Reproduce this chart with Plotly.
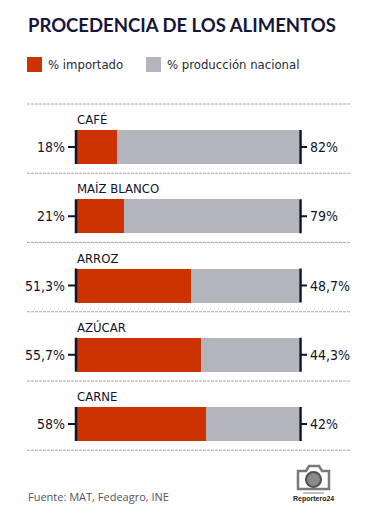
import plotly.graph_objects as go

# ---- data ----
categories = ["CAFÉ", "MAÍZ BLANCO", "ARROZ", "AZÚCAR", "CARNE"]
importado = [18, 21, 51.3, 55.7, 58]
nacional = [82, 79, 48.7, 44.3, 42]
series_names = ["% importado", "% producción nacional"]
title_text = "PROCEDENCIA DE LOS ALIMENTOS"
source_text = "Fuente: MAT, Fedeagro, INE"

RED = "#cc3300"
GRAY = "#b4b4bc"
INK = "#12122a"
W, H = 371, 516
L, R, T, B = 77, 72, 100, 56
SP = 69.25           # px between bar centres
FIRST = 147          # px centre of first bar
PW = W - L - R
PH = H - T - B

def fmt(v):
    s = ("%g" % v).replace(".", ",")
    return s + "%"

def px_x(p):
    return (p - L) / PW

def px_y(p):
    return 1 - (p - T) / PH

NARROW = "Liberation Sans Narrow, DejaVu Sans Condensed, Roboto, sans-serif"

idx = list(range(len(categories)))
fig = go.Figure()
fig.add_trace(go.Bar(y=idx, x=importado, orientation="h", name=series_names[0],
                     marker=dict(color=RED, line=dict(width=0)), width=34 / SP,
                     showlegend=False, hoverinfo="x+name"))
fig.add_trace(go.Bar(y=idx, x=nacional, orientation="h", name=series_names[1],
                     marker=dict(color=GRAY, line=dict(width=0)), width=34 / SP,
                     showlegend=False, hoverinfo="x+name"))

shapes = []
annotations = []
half = 17 / SP
for i, cat in enumerate(categories):
    # end caps
    for xc in (76, 300.5):
        shapes.append(dict(type="line", xref="paper", yref="y",
                           x0=px_x(xc), x1=px_x(xc), y0=i - half, y1=i + half,
                           line=dict(color=INK, width=2.5)))
    shapes.append(dict(type="line", xref="paper", yref="y", x0=px_x(68), x1=px_x(76),
                       y0=i, y1=i, line=dict(color=INK, width=2)))
    shapes.append(dict(type="line", xref="paper", yref="y", x0=px_x(300.5), x1=px_x(307),
                       y0=i, y1=i, line=dict(color=INK, width=2)))
    annotations.append(dict(xref="paper", yref="y", x=px_x(67), y=i, text=fmt(importado[i]),
                            xanchor="right", yanchor="middle", showarrow=False,
                            font=dict(family=NARROW, size=14, color=INK)))
    annotations.append(dict(xref="paper", yref="y", x=px_x(308), y=i, text=fmt(nacional[i]),
                            xanchor="left", yanchor="middle", showarrow=False,
                            font=dict(family=NARROW, size=14, color=INK)))
    annotations.append(dict(xref="paper", yref="y", x=px_x(75), y=i, yshift=27.5, text=cat,
                            xanchor="left", yanchor="middle", showarrow=False,
                            font=dict(family=NARROW, size=13, color=INK)))

for k in range(len(categories) + 1):
    shapes.append(dict(type="line", xref="paper", yref="y", x0=px_x(27), x1=px_x(351),
                       y0=k - 43 / SP, y1=k - 43 / SP,
                       line=dict(color="#a8a8b0", width=1, dash="3px,1px")))

# legend (custom)
for (x0, col, name, tx) in [(27, RED, series_names[0], 46), (146, GRAY, series_names[1], 165)]:
    shapes.append(dict(type="rect", xref="paper", yref="paper", x0=px_x(x0), x1=px_x(x0 + 15),
                       y0=px_y(72), y1=px_y(57), fillcolor=col, line=dict(width=0)))
    annotations.append(dict(xref="paper", yref="paper", x=px_x(tx), y=px_y(64.5), text=name,
                            xanchor="left", yanchor="middle", showarrow=False,
                            font=dict(family=NARROW, size=13, color="#2a2a3a")))

annotations.append(dict(xref="paper", yref="paper", x=px_x(26), y=px_y(24.5), text=title_text,
                        xanchor="left", yanchor="middle", showarrow=False,
                        font=dict(family="Lato, sans-serif", size=18.5, color="#16163a", weight=700)))
annotations.append(dict(xref="paper", yref="paper", x=px_x(26), y=px_y(496), text=source_text,
                        xanchor="left", yanchor="middle", showarrow=False,
                        font=dict(family="Open Sans, sans-serif", size=11, color="#555560")))

# logo (camera)
shapes.append(dict(type="path", xref="paper", yref="paper",
                   path="M %f %f L %f %f L %f %f L %f %f L %f %f L %f %f L %f %f L %f %f Z" % (
                       px_x(298), px_y(471), px_x(306), px_y(471), px_x(309), px_y(466),
                       px_x(319), px_y(466), px_x(322), px_y(471), px_x(329), px_y(471),
                       px_x(329), px_y(489), px_x(298), px_y(489)),
                   line=dict(color="#7a7a7a", width=2.5), fillcolor="rgba(0,0,0,0)"))
shapes.append(dict(type="circle", xref="paper", yref="paper", x0=px_x(306), x1=px_x(321),
                   y0=px_y(487), y1=px_y(472), fillcolor="#8a8a8a", line=dict(color="#505050", width=2)))
shapes.append(dict(type="line", xref="paper", yref="paper", x0=px_x(303), x1=px_x(324),
                   y0=px_y(493), y1=px_y(493), line=dict(color="#c0c0c0", width=2)))
annotations.append(dict(xref="paper", yref="paper", x=px_x(313.5), y=px_y(499), text="<b>Reportero24</b>",
                        xanchor="center", yanchor="middle", showarrow=False,
                        font=dict(family="Liberation Sans Narrow, Arial, sans-serif", size=7, color="#222")))

fig.update_layout(
    width=W, height=H, margin=dict(l=L, r=R, t=T, b=B),
    paper_bgcolor="white", plot_bgcolor="white", barmode="stack", bargap=0,
    xaxis=dict(range=[0, 100], visible=False, fixedrange=True),
    yaxis=dict(range=[(H - B - FIRST) / SP, -(FIRST - T) / SP], visible=False, fixedrange=True),
    shapes=shapes, annotations=annotations, showlegend=False,
)
fig.write_html("out.html", config={"displayModeBar": False},
               post_script="document.body.style.margin='0';document.body.style.overflow='hidden';")
